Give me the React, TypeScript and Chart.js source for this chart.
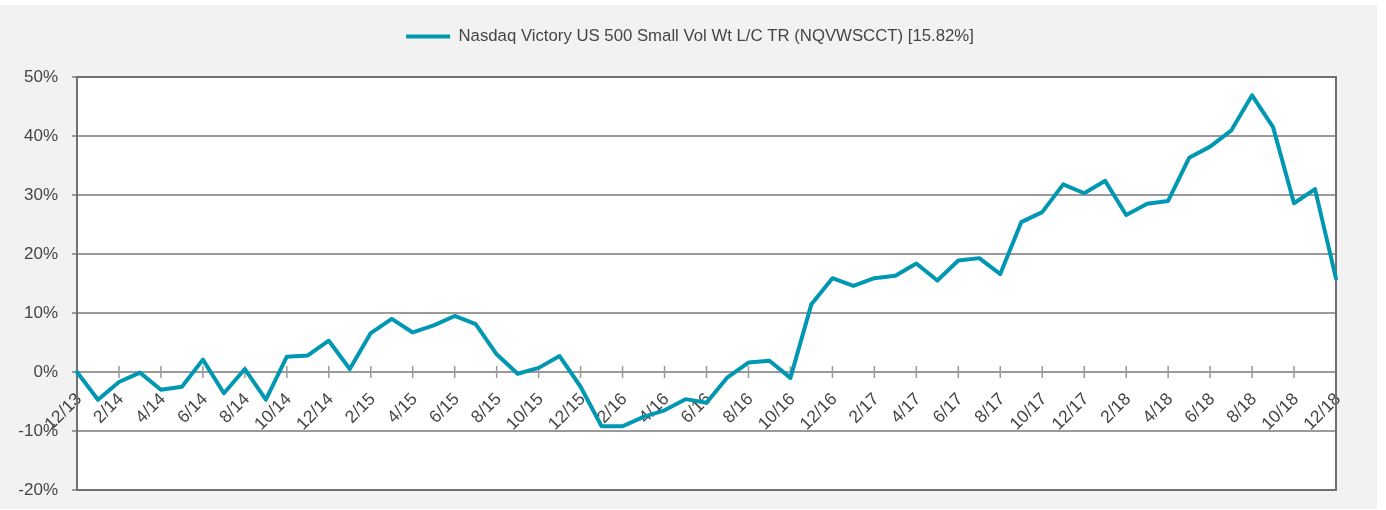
import { useEffect, useRef } from "react";
import { Chart, registerables } from "chart.js";

Chart.register(...registerables);

const seriesName = "Nasdaq Victory US 500 Small Vol Wt L/C TR (NQVWSCCT) [15.82%]";

const categories = [
  "12/13",
  "1/14", "2/14", "3/14", "4/14", "5/14", "6/14", "7/14", "8/14", "9/14", "10/14", "11/14", "12/14",
  "1/15", "2/15", "3/15", "4/15", "5/15", "6/15", "7/15", "8/15", "9/15", "10/15", "11/15", "12/15",
  "1/16", "2/16", "3/16", "4/16", "5/16", "6/16", "7/16", "8/16", "9/16", "10/16", "11/16", "12/16",
  "1/17", "2/17", "3/17", "4/17", "5/17", "6/17", "7/17", "8/17", "9/17", "10/17", "11/17", "12/17",
  "1/18", "2/18", "3/18", "4/18", "5/18", "6/18", "7/18", "8/18", "9/18", "10/18", "11/18", "12/18",
];

const values = [
  0,
  -4.7, -1.7, -0.1, -3.0, -2.5, 2.1, -3.6, 0.5, -4.7, 2.6, 2.8, 5.3,
  0.5, 6.6, 9.0, 6.7, 7.9, 9.5, 8.1, 3.0, -0.3, 0.7, 2.7, -2.5,
  -9.2, -9.2, -7.6, -6.5, -4.6, -5.2, -0.9, 1.6, 1.9, -1.0, 11.5, 15.9,
  14.6, 15.9, 16.3, 18.4, 15.5, 18.9, 19.3, 16.6, 25.4, 27.1, 31.8, 30.3,
  32.4, 26.6, 28.5, 29.0, 36.3, 38.2, 40.9, 46.9, 41.5, 28.6, 31.0, 15.82,
];

const yMin = -20;
const yMax = 50;
const yStep = 10;

const FONT = "'Liberation Sans', Arial, sans-serif";
const TEXT = "#454545";
const LINE = "#0097b2";
const GRID = "#9a9a9a";
const FRAME = "#707070";

const legendFitPlugin = {
  id: "legendFit",
  beforeInit(chart: any) {
    const lg = chart.legend;
    if (!lg) return;
    const orig = lg.fit;
    lg.fit = function () {
      orig.call(this);
      this.height = 72;
    };
  },
  afterLayout(chart: any) {
    const lg = chart.legend;
    if (!lg) return;
    // center the legend over the full grey panel instead of the padded box
    lg.left += 22;
    lg.right += 22;
  },
};

const framePlugin = {
  id: "frame",
  beforeDraw(chart: any) {
    const { ctx, chartArea } = chart;
    const { left, top, right, bottom } = chartArea;
    ctx.save();
    ctx.fillStyle = "#ffffff";
    ctx.fillRect(left, top, right - left, bottom - top);
    ctx.restore();
  },
  beforeDatasetsDraw(chart: any) {
    const { ctx, chartArea, scales } = chart;
    const { left, top, right, bottom } = chartArea;
    const xs = scales.x;
    const ys = scales.y;
    const y0 = ys.getPixelForValue(0);
    ctx.save();
    ctx.strokeStyle = GRID;
    ctx.lineWidth = 1.5;
    xs.ticks.forEach((t: any, i: number) => {
      if (t.label === null || t.label === undefined || t.label === "") return;
      const x = xs.getPixelForTick(i);
      ctx.beginPath();
      ctx.moveTo(x, y0 - 6);
      ctx.lineTo(x, y0 + 6);
      ctx.stroke();
    });
    // short y tick marks left of the axis
    ctx.lineWidth = 2;
    ys.ticks.forEach((_t: any, i: number) => {
      const y = ys.getPixelForTick(i);
      ctx.beginPath();
      ctx.moveTo(left - 5, y);
      ctx.lineTo(left, y);
      ctx.stroke();
    });
    ctx.strokeStyle = FRAME;
    ctx.lineWidth = 2;
    ctx.strokeRect(left, top, right - left, bottom - top);
    ctx.restore();
  },
};

export default function App() {
  const ref = useRef<HTMLCanvasElement>(null);

  useEffect(() => {
    if (!ref.current) return;
    const chart = new Chart(ref.current, {
      type: "line",
      data: {
        labels: categories,
        datasets: [
          {
            label: seriesName,
            data: values,
            borderColor: LINE,
            backgroundColor: LINE,
            borderWidth: 4,
            pointRadius: 0,
            pointHoverRadius: 0,
            tension: 0,
            borderJoinStyle: "round",
            borderCapStyle: "round",
            clip: false as any,
          },
        ],
      },
      options: {
        animation: false,
        responsive: true,
        maintainAspectRatio: false,
        layout: { padding: { left: 0, right: 41, top: 0, bottom: 19 } },
        plugins: {
          legend: {
            position: "top",
            labels: {
              usePointStyle: true,
              pointStyle: "line",
              pointStyleWidth: 44,
              color: TEXT,
              font: { family: FONT, size: 16.75 },
              padding: 23,
            },
          },
          tooltip: { enabled: false },
        },
        scales: {
          x: {
            type: "category",
            position: { y: 0 } as any,
            offset: false,
            grid: { display: false, drawTicks: false },
            border: { display: false },
            ticks: {
              autoSkip: false,
              minRotation: 45,
              maxRotation: 45,
              padding: 17,
              labelOffset: 2,
              color: TEXT,
              font: { family: FONT, size: 17.5 },
              callback: function (this: any, v: any, i: number) {
                return i % 2 === 0 ? this.getLabelForValue(v) : null;
              },
            },
          },
          y: {
            min: yMin,
            max: yMax,
            ticks: {
              stepSize: yStep,
              padding: 0,
              color: TEXT,
              font: { family: FONT, size: 17 },
              callback: (v: any) => `${v}%`,
            },
            grid: { color: GRID, lineWidth: 2, tickLength: 19, tickColor: "rgba(0,0,0,0)" },
            border: { display: false },
            afterFit: (s: any) => {
              s.width = 77;
            },
          },
        },
      },
      plugins: [legendFitPlugin, framePlugin],
    });
    return () => chart.destroy();
  }, []);

  return (
    <div
      style={{
        position: "absolute",
        left: 0,
        top: 5,
        width: 1377,
        height: 504,
        background: "#f2f2f2",
      }}
    >
      <canvas ref={ref} />
    </div>
  );
}
